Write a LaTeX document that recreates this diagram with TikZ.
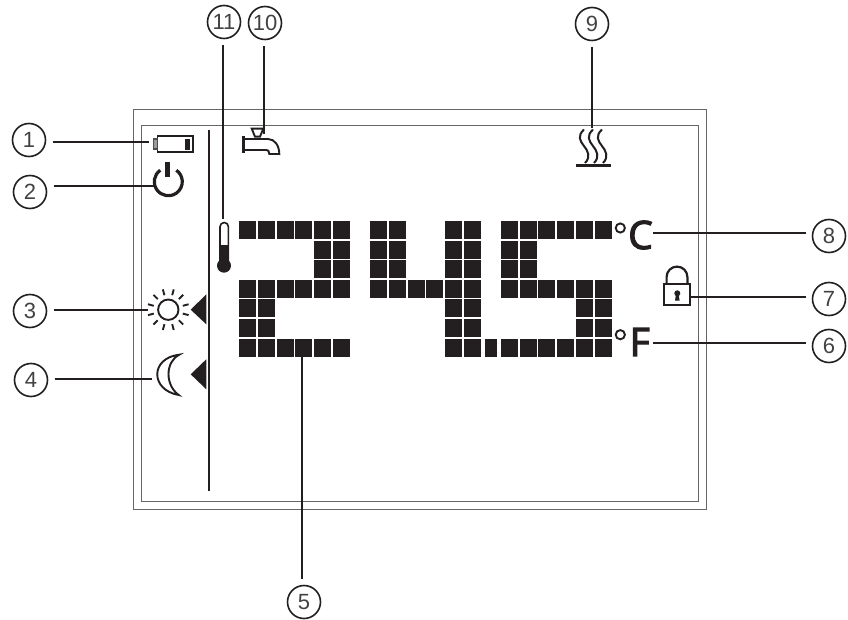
\documentclass[tikz,border=0pt]{standalone}
\usepackage{fontspec}
\setmainfont{Liberation Sans}
\newfontfamily\unitfont[FakeBold=3]{Open Sans}
\definecolor{dk}{HTML}{231F20}
\definecolor{frameC}{HTML}{666664}
\newcommand\cells[2]{\foreach \cx in {#1}{\foreach \cy in {#2}{\fill[dk] (\cx,\cy) rectangle ++(17,18);}}}
\tikzset{
  callout/.style={circle,draw=dk,line width=1.6pt,minimum size=33pt,inner sep=0pt,outer sep=7pt,
    text=dk!85,font=\fontsize{22}{22}\selectfont},
  leader/.style={draw=dk,line width=1.7pt},
  frameline/.style={draw=frameC,line width=1pt},
  icon/.style={draw=dk,line width=1.9pt},
  unit/.style={text=dk,inner sep=0pt,font=\unitfont\fontsize{39}{39}\selectfont}
}
\begin{document}
\begin{tikzpicture}[x=1pt,y=-1pt]
\useasboundingbox (0,0) rectangle (848,620);
% frames
\draw[frameline] (133,110) rectangle (706,509);
\draw[frameline] (141.3,126) rectangle (698,501);
% separator
\draw[draw=dk,line width=1.9pt] (209,130) -- (209,491);
% digits
\cells{239,258,277,295,314,333}{221,280,339}
\cells{314,333}{241,260}
\cells{239,258}{299,319}
\cells{370,389}{221,241,260,280}
\cells{408,426}{280}
\cells{445,464}{221,241,260,280,299,319,339}
\fill[dk] (485,339) rectangle ++(12,18);
\cells{501,520,538,557,576,595}{221,280,339}
\cells{501,520}{241,260}
\cells{576,595}{299,319}
% battery
\draw[icon] (157.5,136.2) rectangle (193,152.2);
\draw[draw=dk!80,fill=dk!45,line width=1.3pt] (153.2,139) rectangle (157.5,149);
\fill[dk] (185,138.7) rectangle (190,150);
% power
\draw[icon,line width=3.2pt] (168.3,181.7) ++(125:14pt) arc[start angle=125,delta angle=290,radius=14pt];
\fill[dk] (165.3,161.7) rectangle (170,177);
% sun
\draw[icon] (168.3,309.7) circle[radius=10.2pt];
\foreach \a in {15,45,...,345}{\draw[icon] (168.3,309.7) ++(\a:15pt) -- ++(\a:6pt);}
\fill[dk] (190.7,309.7) -- (206.3,294.3) -- (206.3,324.3) -- cycle;
% moon
\draw[icon,line join=miter] (179.3,354.7) .. controls (150,358) and (150,390) .. (178.7,395) .. controls (165,385) and (165,362) .. cycle;
\fill[dk] (190.7,374.3) -- (206.3,359.3) -- (206.3,389.3) -- cycle;
% thermometer
\draw[icon,line width=1.6pt] (220,262) -- (220,226.7) arc[start angle=180,end angle=0,radius=4.2pt] -- (228.4,262);
\fill[dk] (220,245) rectangle (228.4,262);
\fill[dk] (224,265.7) circle[radius=7pt];
% tap
\draw[icon,line width=2.6pt] (243.7,136) -- (243.7,152.7);
\draw[icon] (243.7,139) -- (268,139) .. controls (275,139) and (279.3,146) .. (279.3,154) -- (269.3,154) .. controls (269.3,151) and (268,150) .. (266.5,150) -- (243.7,150);
\draw[icon] (251.7,128.6) -- (263.3,128.6) -- (260,136.7) -- (255,136.7) -- cycle;
% heat
\foreach \h in {584,593,602}{\draw[icon,line width=2pt] (\h,129.5) .. controls (\h-7,136) and (\h-4,141) .. (\h,146) .. controls (\h+4,151) and (\h+7,157) .. (\h+1,163);}
\fill[dk] (576,163.7) rectangle (611,166.7);
% lock
\draw[icon,line width=2.2pt] (664.3,284.3) rectangle (689.7,305);
\draw[icon,line width=2.2pt] (666.6,284) -- (666.6,277) arc[start angle=180,end angle=0,radius=10.4pt] -- (687.4,284);
\fill[dk] (677.3,293.3) circle[radius=3pt];
\fill[dk] (676,294) -- (678.6,294) -- (679.6,300.7) -- (675,300.7) -- cycle;
% units
\draw[icon,line width=1.9pt] (620.3,228) circle[radius=4.6pt];
\draw[icon,line width=1.9pt] (620.3,334.7) circle[radius=4.6pt];
\node[unit] (unitC) at (640.5,235) {C};
\node[unit] (unitF) at (639.7,342) {F};
% callouts
\node[callout] (c1) at (29,140) {1};
\node[callout] (c2) at (30,192) {2};
\node[callout] (c3) at (30,311) {3};
\node[callout] (c4) at (31,380) {4};
\node[callout] (c5) at (304,602) {5};
\node[callout] (c6) at (829,346) {6};
\node[callout] (c7) at (829,299) {7};
\node[callout] (c8) at (829,236) {8};
\node[callout] (c9) at (592,24) {9};
\node[callout] (c10) at (265,23) {10};
\node[callout] (c11) at (224,22) {11};
% connector ends
\coordinate (p1) at (149,142);
\coordinate (p2) at (155,186);
\coordinate (p3) at (148,310);
\coordinate (p4) at (152,379);
\coordinate (p5) at (302,357);
\coordinate (p6) at (653,343);
\coordinate (p7) at (691,297);
\coordinate (p8) at (653,233);
\coordinate (p9) at (592,128);
\coordinate (p10) at (264,134);
\coordinate (p11) at (223,219);
\draw[leader] (c1.east |- p1) -- (p1);
\draw[leader] (c2.east |- p2) -- (p2);
\draw[leader] (c3.east |- p3) -- (p3);
\draw[leader] (c4.east |- p4) -- (p4);
\draw[leader] (p5) -- (p5 |- c5.north);
\draw[leader] (p6) -- (c6.west |- p6);
\draw[leader] (p7) -- (c7.west |- p7);
\draw[leader] (p8) -- (c8.west |- p8);
\draw[leader] (c9.south) -- (p9);
\draw[leader] (p10 |- c10.south) -- (p10);
\draw[leader] (p11 |- c11.south) -- (p11);
\end{tikzpicture}
\end{document}
